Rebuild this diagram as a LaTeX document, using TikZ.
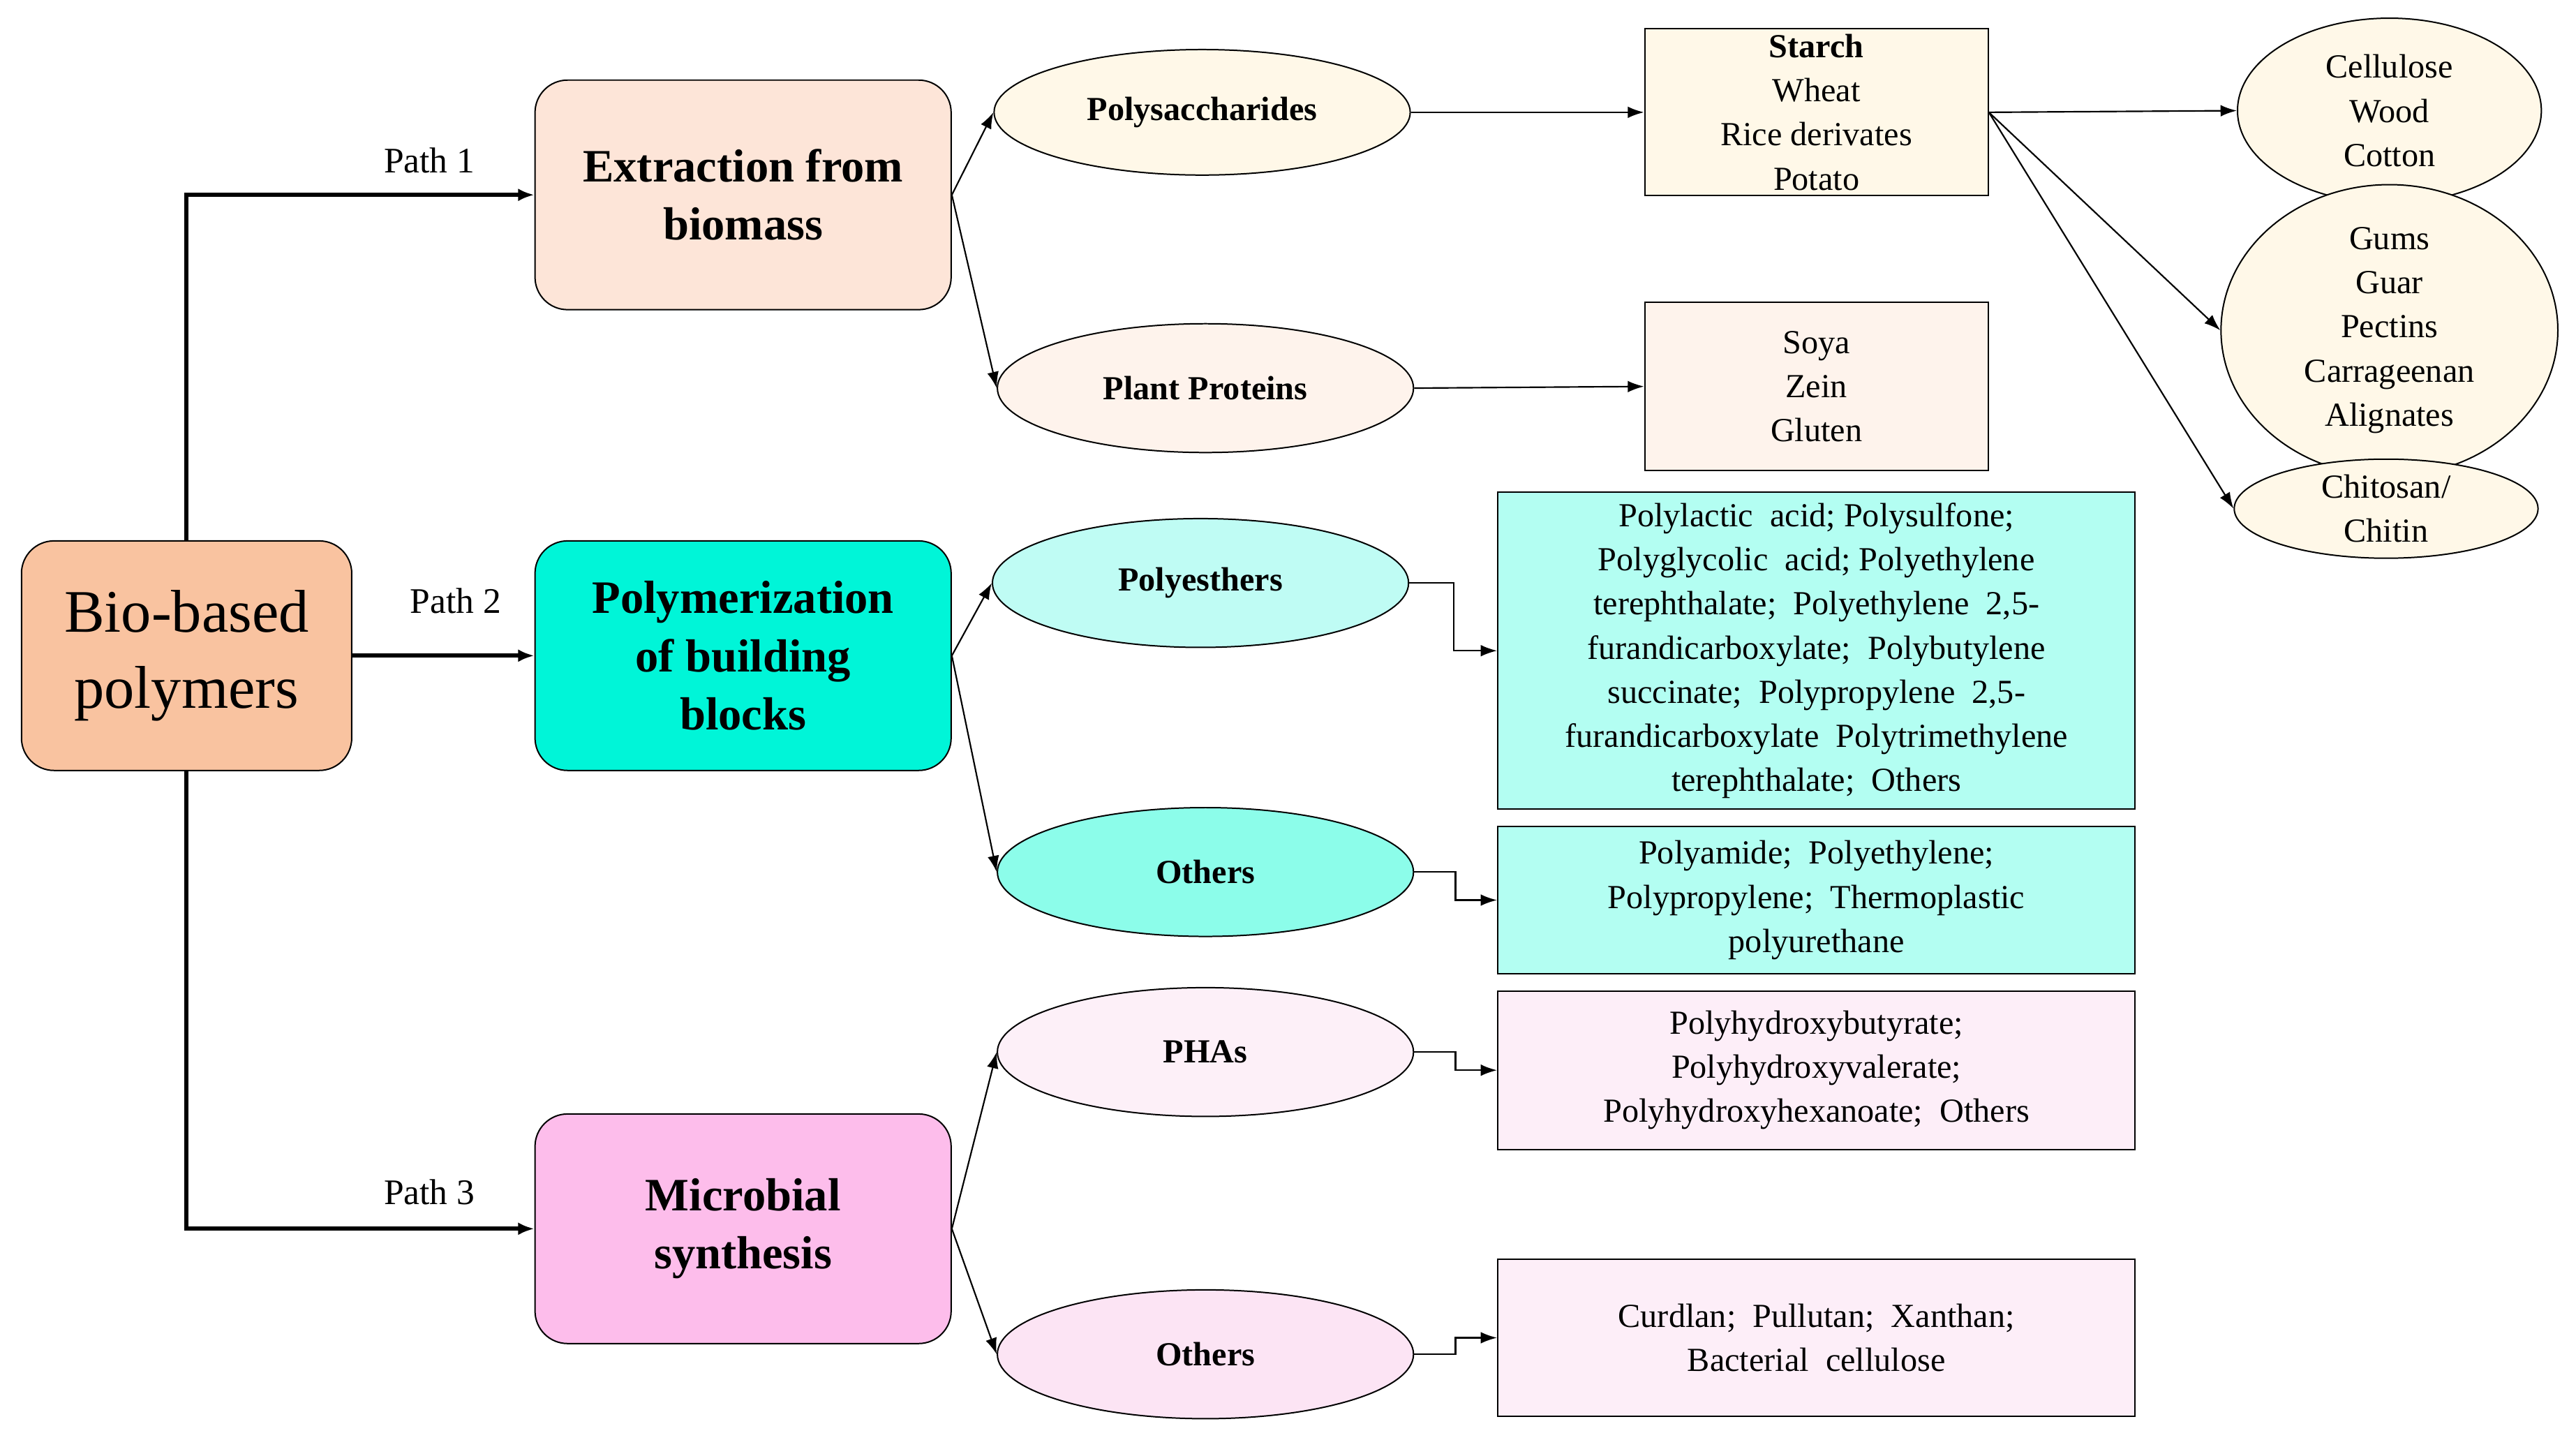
\documentclass[tikz,border=0pt]{standalone}
\usepackage{fontspec}
\setmainfont{Liberation Serif}
\usetikzlibrary{arrows.meta,shapes.geometric}
\begin{document}
\begin{tikzpicture}[x=0.05cm,y=-0.05cm,
  txt/.style={font=\fontsize{29}{38}\selectfont,align=center},
  bt/.style={font=\bfseries\fontsize{29}{38}\selectfont},
  rbox/.style={draw,line width=1.2pt,rounded corners=28pt,inner sep=0pt},
  ell/.style={draw,ellipse,line width=1.2pt,inner sep=0pt},
  sq/.style={draw,line width=1.2pt,inner sep=0pt,txt},
  ar/.style={line width=1.3pt,-{Latex[length=14pt,width=10pt]}},
  par/.style={line width=3.5pt,-{Latex[length=14pt,width=11pt]}}]
\useasboundingbox (0,0) rectangle (1560,876);
\definecolor{cBio}{HTML}{F9C3A0}\definecolor{cExt}{HTML}{FDE5D8}
\definecolor{cPol}{HTML}{00F5D8}\definecolor{cMic}{HTML}{FDBDEB}
\definecolor{cY}{HTML}{FFF8E8}\definecolor{cP}{HTML}{FEF3EC}
\definecolor{cC1}{HTML}{BFFCF4}\definecolor{cC2}{HTML}{8CFDEA}
\definecolor{cC}{HTML}{B3FEF2}\definecolor{cK1}{HTML}{FDF0F8}
\definecolor{cK2}{HTML}{FCE4F4}\definecolor{cK}{HTML}{FDEEF8}
% main boxes
\node[rbox,fill=cBio,minimum width=200*0.05cm,minimum height=139*0.05cm,align=center,font=\fontsize{52}{65}\selectfont] (bio) at (113,397) {Bio-based\\polymers};
\node[rbox,fill=cExt,minimum width=252*0.05cm,minimum height=139*0.05cm,align=center,font=\bfseries\fontsize{40}{50}\selectfont] (ext) at (450,118) {Extraction from\\biomass};
\node[rbox,fill=cPol,minimum width=252*0.05cm,minimum height=139*0.05cm,align=center,font=\bfseries\fontsize{40}{50}\selectfont] (pol) at (450,397) {Polymerization\\of building\\blocks};
\node[rbox,fill=cMic,minimum width=252*0.05cm,minimum height=139*0.05cm,align=center,font=\bfseries\fontsize{40}{50}\selectfont] (mic) at (450,744) {Microbial\\synthesis};
% path connectors
\coordinate (p1) at (113,118); \coordinate (p3) at (113,744);
\draw[par] (bio.north) -- (p1) -- (ext.west);
\draw[par] (bio.east) -- (pol.west);
\draw[par] (bio.south) -- (p3) -- (mic.west);
\node[font=\fontsize{31}{38}\selectfont] (l1) at (260,97) {Path 1};
\node[font=\fontsize{31}{38}\selectfont] (l2) at (276,364) {Path 2};
\node[font=\fontsize{31}{38}\selectfont] (l3) at (260,722) {Path 3};
% ellipses
\node[ell,fill=cY,minimum width=252*0.05cm,minimum height=76*0.05cm,bt] (e1) at (728,68) {Polysaccharides};
\node[ell,fill=cP,minimum width=252*0.05cm,minimum height=78*0.05cm,bt] (e2) at (730,235) {Plant Proteins};
\node[ell,fill=cC1,minimum width=252*0.05cm,minimum height=78*0.05cm,bt] (e3) at (727,353) {Polyesthers};
\node[ell,fill=cC2,minimum width=252*0.05cm,minimum height=78*0.05cm,bt] (e4) at (730,528) {Others};
\node[ell,fill=cK1,minimum width=252*0.05cm,minimum height=78*0.05cm,bt] (e5) at (730,637) {PHAs};
\node[ell,fill=cK2,minimum width=252*0.05cm,minimum height=78*0.05cm,bt] (e6) at (730,820) {Others};
\draw[ar] (ext.east) -- (e1.west); \draw[ar] (ext.east) -- (e2.west);
\draw[ar] (pol.east) -- (e3.west); \draw[ar] (pol.east) -- (e4.west);
\draw[ar] (mic.east) -- (e5.west); \draw[ar] (mic.east) -- (e6.west);
% boxes
\node[sq,fill=cY,minimum width=208*0.05cm,minimum height=101*0.05cm] (b1) at (1100,68) {\textbf{Starch}\\Wheat\\Rice derivates\\Potato};
\node[sq,fill=cP,minimum width=208*0.05cm,minimum height=102*0.05cm] (b2) at (1100,234) {Soya\\Zein\\Gluten};
\node[sq,fill=cC,minimum width=386*0.05cm,minimum height=192*0.05cm] (b3) at (1100,394) {Polylactic\ \ acid;\ Polysulfone;\\Polyglycolic\ \ acid;\ Polyethylene\\terephthalate;\ \ Polyethylene\ \ 2,5-\\furandicarboxylate;\ \ Polybutylene\\succinate;\ \ Polypropylene\ \ 2,5-\\furandicarboxylate\ \ Polytrimethylene\\terephthalate;\ \ Others};
\node[sq,fill=cC,minimum width=386*0.05cm,minimum height=89*0.05cm] (b4) at (1100,545) {Polyamide;\ \ Polyethylene;\\Polypropylene;\ \ Thermoplastic\\polyurethane};
\node[sq,fill=cK,minimum width=386*0.05cm,minimum height=96*0.05cm] (b5) at (1100,648) {Polyhydroxybutyrate;\\Polyhydroxyvalerate;\\Polyhydroxyhexanoate;\ \ Others};
\node[sq,fill=cK,minimum width=386*0.05cm,minimum height=95*0.05cm] (b6) at (1100,810) {Curdlan;\ \ Pullutan;\ \ Xanthan;\\Bacterial\ \ cellulose};
\draw[ar] (e1.east) -- (b1.west);
\draw[ar] (e2.east) -- (b2.west);
\draw[ar] (e3.east) -- ++(27,0) |- (b3.west);
\draw[ar] (e4.east) -- ++(25,0) |- (b4.west);
\draw[ar] (e5.east) -- ++(25,0) |- (b5.west);
\draw[ar] (e6.east) -- ++(25,0) |- (b6.west);
% right ellipses
\node[ell,fill=cY,minimum width=184*0.05cm,minimum height=112*0.05cm,txt] (r1) at (1447,67) {Cellulose\\Wood\\Cotton};
\node[ell,fill=cY,minimum width=204*0.05cm,minimum height=154*0.05cm,txt] (r2) at (1447,200) {Gums\\Guar\\Pectins\\Carrageenan\\Alignates};
\node[ell,fill=cY,minimum width=184*0.05cm,minimum height=60*0.05cm,txt] (r3) at (1445,308) {Chitosan/\\Chitin};
\draw[ar] (b1.east) -- (r1.west);
\draw[ar] (b1.east) -- (r2.west);
\draw[ar] (b1.east) -- (r3.west);
\end{tikzpicture}
\end{document}
